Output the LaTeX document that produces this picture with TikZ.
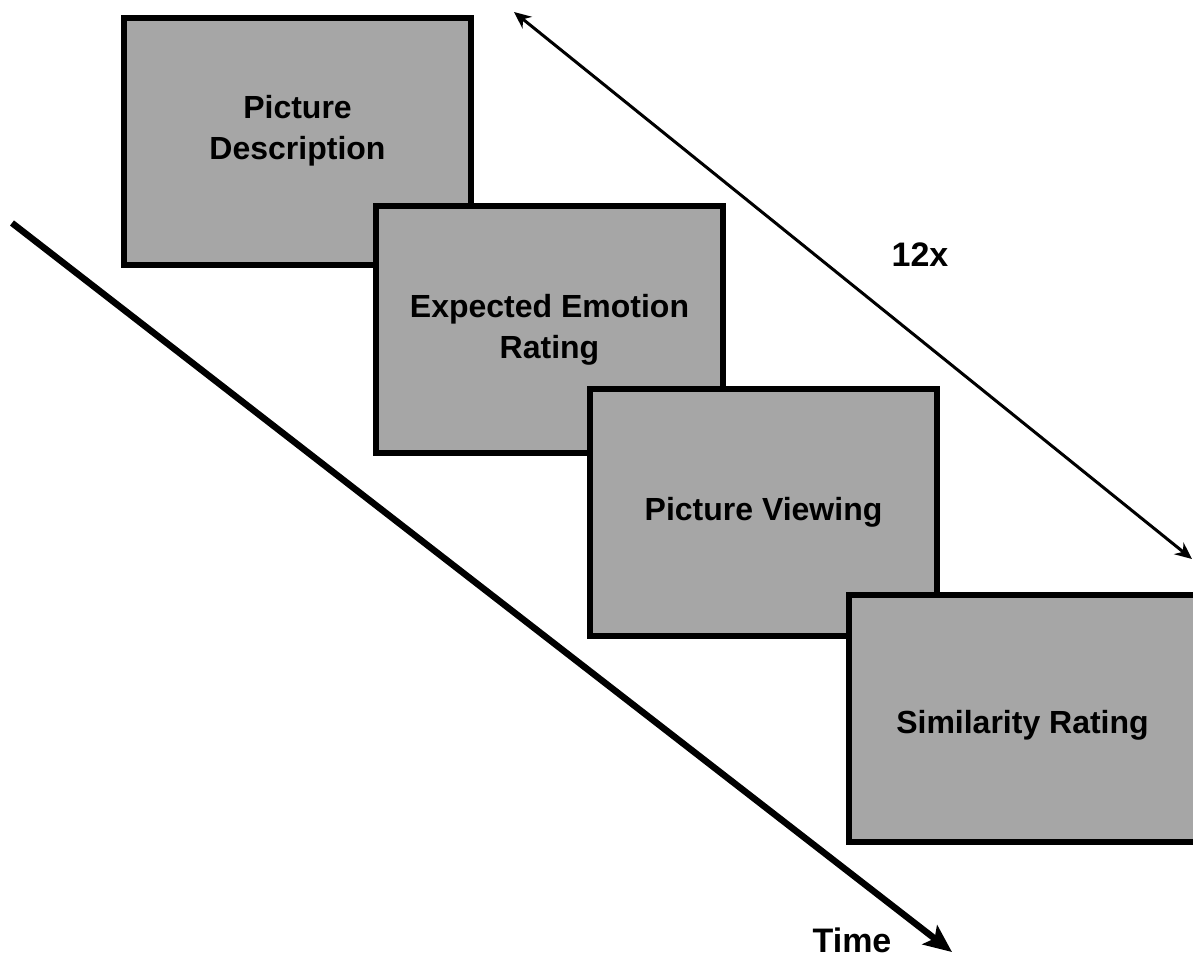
\documentclass[tikz,border=0pt]{standalone}
\usepackage{fontspec}
\setmainfont{Liberation Sans}
\usetikzlibrary{arrows.meta}
\definecolor{boxgray}{HTML}{A6A6A6}

\tikzset{
  stage/.style={draw=black, fill=boxgray, line width=6pt, rectangle,
    minimum width=347pt, minimum height=247pt, align=center,
    font=\fontsize{32}{41}\selectfont\bfseries},
  bigtext/.style={font=\fontsize{34}{40}\selectfont\bfseries}
}

\begin{document}
\begin{tikzpicture}[x=1pt, y=-1pt]
    \useasboundingbox (0,0) rectangle (1193,958);
    % time axis and repetition
    \coordinate (t0) at (12,223);
    \coordinate (t1) at (952,952);
    \coordinate (r0) at (514,12);
    \coordinate (r1) at (1192,559);
    \draw [line width=6.5pt, -{Stealth[length=28pt, width=24pt, inset=6pt]}] (t0) -- (t1);
    \draw [line width=3pt, {Stealth[length=17pt, width=15pt]}-{Stealth[length=17pt, width=15pt]}] (r0) -- (r1);
    \node [bigtext] (time) at (852,940) {Time};
    \node [bigtext] (reps) at (920,255) {12x};
    % stages
    \node [stage, text depth=28pt] (desc) at (297.5,141.5) {Picture\\Description};
    \node [stage] (expect) at (549.5,329.5) {Expected Emotion\\Rating};
    \node [stage] (view) at (763.5,512.5) {Picture Viewing};
    \node [stage, text height=37pt] (sim) at (1022.5,718.5) {Similarity Rating};
  \end{tikzpicture}
\end{document}
